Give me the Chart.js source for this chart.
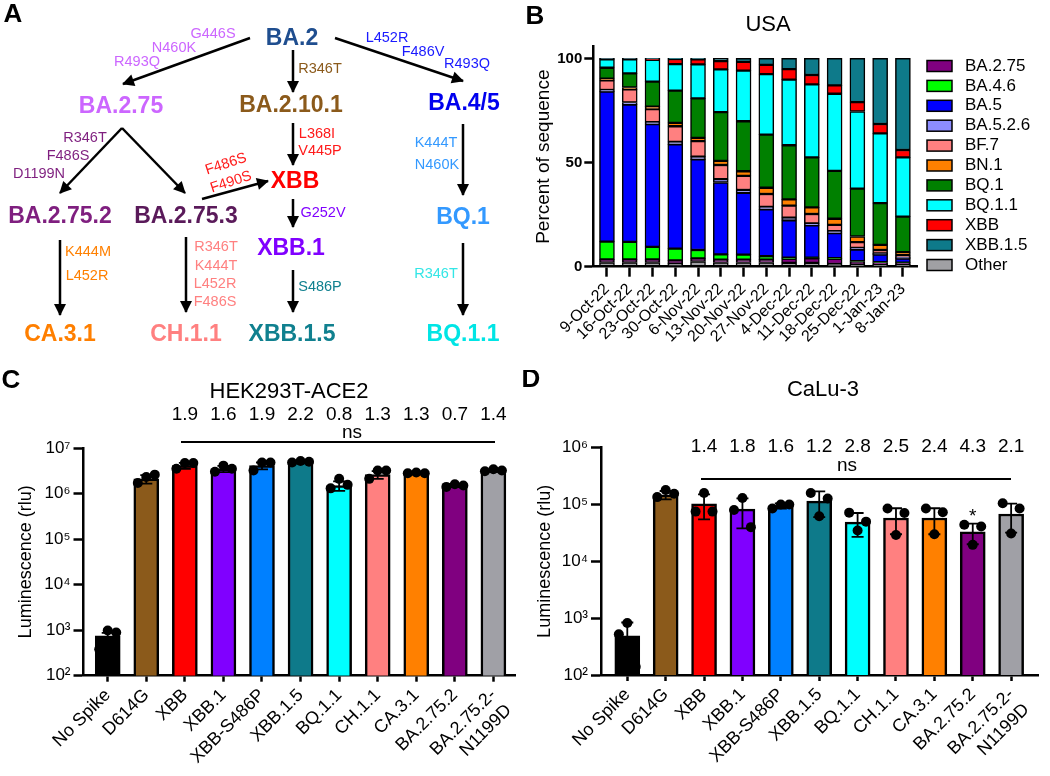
<!DOCTYPE html>
<html>
<head>
<meta charset="utf-8">
<title>XBB lineages</title>
<script src="https://cdn.jsdelivr.net/npm/chart.js@4.4.1/dist/chart.umd.min.js"></script>
<style>
  html, body { margin: 0; padding: 0; background: #fff; }
  #fig { position: relative; width: 1050px; height: 776px; overflow: hidden; }
  #fig canvas { position: absolute; }
</style>
</head>
<body>
<div id="fig">
  <canvas id="treeChart" width="520" height="370" style="left:0;top:0"></canvas>
  <canvas id="usaChart" width="530" height="370" style="left:520px;top:0"></canvas>
  <canvas id="hekChart" width="520" height="406" style="left:0;top:370px"></canvas>
  <canvas id="caluChart" width="530" height="406" style="left:520px;top:370px"></canvas>
</div>
<script>
// ---------- A : arbre des lignages ----------
const nodeNames  = ['BA.2', 'BA.2.75', 'BA.2.10.1', 'BA.4/5', 'XBB', 'BA.2.75.2', 'BA.2.75.3', 'BQ.1', 'XBB.1', 'CA.3.1', 'CH.1.1', 'XBB.1.5', 'BQ.1.1'];
const nodeX      = [292, 121, 291, 464, 295, 60, 186, 463, 291, 60, 186, 292, 463];
const nodeY      = [39, 107, 106, 104, 182, 217, 217, 218, 249, 335, 335, 335, 335];
const nodeColors = ['#1f4e8f', '#cc66ff', '#8b5a1b', '#0000ee', '#ff0000', '#7f1f7f', '#5a1a5a', '#3399ff', '#8000ff', '#ff7f00', '#ff8080', '#10808f', '#00e5e5'];

// fleches (depart -> arrivee)
const arrowFromX = [250, 293, 335, 122, 122, 202, 293, 293, 293, 463, 463, 60, 186];
const arrowFromY = [38, 50, 38, 128, 128, 199, 123, 199, 270, 124, 243, 240, 237];
const arrowToX   = [123, 293, 463, 60, 185, 268, 293, 293, 293, 463, 463, 60, 186];
const arrowToY   = [84, 92, 81, 193, 193, 181, 165, 227, 312, 195, 315, 315, 312];

// mutations
const mutText  = ['G446S', 'N460K', 'R493Q', 'L452R', 'F486V', 'R493Q', 'R346T', 'R346T', 'F486S', 'D1199N', 'L368I', 'V445P', 'F486S', 'F490S', 'G252V', 'K444T', 'N460K', 'K444M', 'L452R', 'R346T', 'K444T', 'L452R', 'F486S', 'S486P', 'R346T'];
const mutX     = [213, 174, 137, 387, 423, 467, 320, 85, 68, 39, 317, 320, 226, 231, 323, 436, 437, 88, 87, 216, 216, 215, 215, 320, 436];
const mutY     = [34, 48, 62, 38, 52, 64, 69, 138, 156, 174, 134, 151, 164, 182, 213, 143, 165, 252, 276, 247, 266, 284, 302, 287, 274];
const mutColor = ['#cc66ff', '#cc66ff', '#cc66ff', '#1a1aff', '#1a1aff', '#1a1aff', '#8b5a1b', '#7f1f7f', '#7f1f7f', '#7f1f7f', '#ff1a1a', '#ff1a1a', '#ff1a1a', '#ff1a1a', '#8000ff', '#3399ff', '#3399ff', '#ff8000', '#ff8000', '#ff8080', '#ff8080', '#ff8080', '#ff8080', '#10808f', '#33e6e6'];
const mutAngle = [0, 0, 0, 0, 0, 0, 0, 0, 0, 0, 0, 0, -18, -18, 0, 0, 0, 0, 0, 0, 0, 0, 0, 0, 0];

// ---------- B : USA ----------
const weeks = ['9-Oct-22', '16-Oct-22', '23-Oct-22', '30-Oct-22', '6-Nov-22', '13-Nov-22', '20-Nov-22', '27-Nov-22', '4-Dec-22', '11-Dec-22', '18-Dec-22', '25-Dec-22', '1-Jan-23', '8-Jan-23'];
const lineages = ['Other', 'BA.2.75', 'BA.4.6', 'BA.5', 'BA.5.2.6', 'BF.7', 'BN.1', 'BQ.1', 'BQ.1.1', 'XBB', 'XBB.1.5'];
const lineageColors = ['#a0a0a4', '#800080', '#00ff00', '#0000ff', '#8c8cff', '#ff8080', '#ff8000', '#008000', '#00ffff', '#ff0000', '#0e7a8a'];
const pctOther  = [2, 2, 2, 1.5, 2.5, 2, 2, 2, 1.8, 1.8, 1.3, 1, 1, 1];
const pctBA275  = [1.5, 1.5, 1.5, 1.5, 1.5, 1.4, 1.4, 1.4, 2, 2.2, 2.5, 1.5, 1, 0.8];
const pctBA46   = [8.5, 8.4, 6, 5.7, 4, 2.5, 2.4, 1.6, 0.5, 0.3, 0.3, 0.2, 0.2, 0.1];
const pctBA5    = [72, 65.9, 58.9, 50, 43.5, 34.5, 29.7, 22.5, 18, 15.5, 12, 5.5, 3.6, 2];
const pctBA526  = [0.8, 1, 1, 1.2, 1.3, 1.6, 1.3, 1.2, 1.2, 1, 1, 0.8, 0.6, 0.6];
const pctBF7    = [4.7, 6.3, 6.2, 7.5, 7.5, 6.8, 6.8, 6.2, 5.8, 4.5, 3, 2.8, 1.6, 1];
const pctBN1    = [0.7, 0.9, 1.2, 1.6, 1.5, 2, 2.2, 3, 3, 3.2, 2.9, 2.7, 2.5, 1.5];
const pctBQ1    = [5.3, 6.8, 12, 15.5, 19, 23.4, 24, 25.5, 26, 24, 23, 23, 20, 17];
const pctBQ11   = [4, 6.7, 10.5, 12.7, 16.3, 20.5, 24.3, 29, 31.5, 35, 37, 37, 33.5, 28.5];
const pctXBB    = [0.3, 0.3, 0.5, 2.5, 2.4, 4, 4.2, 4.5, 5, 4.5, 4, 4.5, 4.5, 3.5];
const pctXBB15  = [0.2, 0.2, 0.2, 0.3, 0.5, 1.3, 1.7, 3.1, 5.2, 8, 13, 21, 31.5, 44];
const sharesB = [pctOther, pctBA275, pctBA46, pctBA5, pctBA526, pctBF7, pctBN1, pctBQ1, pctBQ11, pctXBB, pctXBB15];
const legendOrderB = [1, 2, 3, 4, 5, 6, 7, 8, 9, 10, 0]; // "Other" en dernier
const percentTicks = [0, 50, 100];

// ---------- C / D : luminescence ----------
const variants = ['No Spike', 'D614G', 'XBB', 'XBB.1', 'XBB-S486P', 'XBB.1.5', 'BQ.1.1', 'CH.1.1', 'CA.3.1', 'BA.2.75.2', ['BA.2.75.2-', 'N1199D']];
const variantColors = ['#000000', '#8b5a1b', '#ff0000', '#8000ff', '#0080ff', '#0e7a8a', '#00ffff', '#ff8080', '#ff8000', '#800080', '#a0a0a6'];

const hekMean = [750, 2.1e6, 4.1e6, 3.5e6, 4.1e6, 4.9e6, 1.5e6, 2.6e6, 2.8e6, 1.5e6, 3.2e6];
const hekSD   = [120, 4.5e5, 6e5, 5.5e5, 7e5, 2.5e5, 3.5e5, 5e5, 1e5, 1.2e5, 1.5e5];
const hekRep1 = [380, 1.7e6, 3.5e6, 3.0e6, 3.2e6, 4.8e6, 1.3e6, 2.1e6, 2.8e6, 1.4e6, 3.1e6];
const hekRep2 = [980, 2.3e6, 4.7e6, 4.1e6, 4.8e6, 5.2e6, 2.1e6, 3.2e6, 2.9e6, 1.6e6, 3.4e6];
const hekRep3 = [890, 2.6e6, 4.7e6, 3.5e6, 4.8e6, 5.0e6, 1.55e6, 3.2e6, 2.8e6, 1.5e6, 3.2e6];
const hekFold = ['1.9', '1.6', '1.9', '2.2', '0.8', '1.3', '1.3', '0.7', '1.4'];
const hekTicks = [1e2, 1e3, 1e4, 1e5, 1e6, 1e7];
const hekTickLabels = ['10²', '10³', '10⁴', '10⁵', '10⁶', '10⁷'];

const caluMean = [490, 1.48e5, 1.03e5, 8.3e4, 9.5e4, 1.15e5, 4.9e4, 5.8e4, 5.8e4, 3.3e4, 6.8e4];
const caluSD   = [350, 2.5e4, 4.8e4, 4.5e4, 1.0e4, 5.5e4, 2.2e4, 2.8e4, 2.8e4, 1.3e4, 3.6e4];
const caluRep1 = [520, 1.35e5, 7.5e4, 8e4, 8.5e4, 1.6e5, 7.2e4, 8.5e4, 8.5e4, 4.4e4, 1.05e5];
const caluRep2 = [820, 1.8e5, 1.6e5, 1.3e5, 1.0e5, 6.2e4, 3.5e4, 2.9e4, 3.0e4, 1.95e4, 3.1e4];
const caluRep3 = [140, 1.55e5, 7.5e4, 4e4, 1.0e5, 1.28e5, 5e4, 7.1e4, 7.3e4, 4.1e4, 8.5e4];
const caluFold = ['1.4', '1.8', '1.6', '1.2', '2.8', '2.5', '2.4', '4.3', '2.1'];
const caluTicks = [1e2, 1e3, 1e4, 1e5, 1e6];
const caluTickLabels = ['10²', '10³', '10⁴', '10⁵', '10⁶'];

const JITTER = [-0.22, 0, 0.22];
const FONT = 'Arial, "Liberation Sans", Helvetica, sans-serif';

Chart.defaults.font.family = FONT;
Chart.defaults.color = '#000';
Chart.defaults.animation = false;
Chart.defaults.plugins.legend.display = false;
Chart.defaults.plugins.tooltip.enabled = false;

function putText(ctx, txt, x, y, font, color, align, angle) {
    ctx.save();
    ctx.translate(x, y);
    if (angle) ctx.rotate(angle * Math.PI / 180);
    ctx.font = font + ' ' + FONT;
    ctx.fillStyle = color || '#000';
    ctx.textAlign = align || 'center';
    ctx.textBaseline = 'middle';
    ctx.fillText(txt, 0, 0);
    ctx.restore();
}

// ---------- A ----------
const treeLabels = {
    id: 'treeLabels',
    afterDatasetsDraw(chart) {
        const ctx = chart.ctx;
        // pointes de fleches
        for (let k = 2; k < chart.data.datasets.length; k++) {
            const pts = chart.getDatasetMeta(k).data;
            const a = pts[0], b = pts[1];
            const ang = Math.atan2(b.y - a.y, b.x - a.x);
            ctx.save();
            ctx.translate(b.x, b.y);
            ctx.rotate(ang);
            ctx.beginPath();
            ctx.moveTo(1, 0);
            ctx.lineTo(-11, -6);
            ctx.lineTo(-11, 6);
            ctx.closePath();
            ctx.fillStyle = '#000';
            ctx.fill();
            ctx.restore();
        }
        chart.getDatasetMeta(0).data.forEach((p, i) => putText(ctx, nodeNames[i], p.x, p.y, 'bold 23px', nodeColors[i]));
        chart.getDatasetMeta(1).data.forEach((p, i) => putText(ctx, mutText[i], p.x, p.y, '14.5px', mutColor[i], 'center', mutAngle[i]));
        putText(ctx, 'A', 13, 15, 'bold 26px');
    }
};

new Chart(document.getElementById('treeChart'), {
    type: 'scatter',
    data: {
        datasets: [
            { data: nodeNames.map((n, i) => ({ x: nodeX[i], y: nodeY[i] })), pointRadius: 0 },
            { data: mutText.map((t, i) => ({ x: mutX[i], y: mutY[i] })), pointRadius: 0 },
            ...arrowFromX.map((x0, i) => ({
                data: [{ x: x0, y: arrowFromY[i] }, { x: arrowToX[i], y: arrowToY[i] }],
                showLine: true, borderColor: '#000', borderWidth: 2.5, pointRadius: 0
            }))
        ]
    },
    options: {
        responsive: false,
        devicePixelRatio: 1,
        events: [],
        layout: { padding: 0 },
        scales: {
            x: { type: 'linear', min: 0, max: 520, display: false },
            y: { type: 'linear', min: 0, max: 370, reverse: true, display: false }
        }
    },
    plugins: [treeLabels]
});

// ---------- B ----------
const usaText = {
    id: 'usaText',
    afterDraw(chart) {
        const ctx = chart.ctx;
        putText(ctx, 'B', 15, 17, 'bold 26px');
        putText(ctx, 'USA', 248, 25, '22px');
        legendOrderB.forEach((k, row) => {
            const y = 66 + row * 19.9;
            ctx.save();
            ctx.fillStyle = lineageColors[k];
            ctx.strokeStyle = '#000';
            ctx.lineWidth = 1.5;
            ctx.fillRect(407, y - 5.5, 25, 11);
            ctx.strokeRect(407, y - 5.5, 25, 11);
            ctx.restore();
            putText(ctx, lineages[k], 445, y, '17px', '#000', 'left');
        });
    }
};

new Chart(document.getElementById('usaChart'), {
    type: 'bar',
    data: {
        datasets: lineages.map((name, k) => ({
            label: name,
            data: sharesB[k].map((v, i) => ({ x: i, y: v })),
            backgroundColor: lineageColors[k],
            borderColor: '#000',
            borderWidth: 1.5,
            borderSkipped: false,
            barThickness: 15
        }))
    },
    options: {
        responsive: false,
        devicePixelRatio: 1,
        events: [],
        layout: { padding: { left: 0, top: 46.7, right: 132.3, bottom: 0 } },
        scales: {
            x: {
                type: 'linear', stacked: true, offset: false, min: -0.6, max: 13.65,
                afterBuildTicks: s => { s.ticks = weeks.map((w, i) => ({ value: i })); },
                afterFit: s => { s.height = 103.3; s.paddingLeft = 0; s.paddingRight = 0; },
                ticks: { autoSkip: false, minRotation: 45, maxRotation: 45, padding: 3, font: { size: 16 }, callback: (v, i) => weeks[i] },
                grid: { offset: false, drawOnChartArea: false, tickLength: 10, tickWidth: 2.5, tickColor: '#000' },
                border: { color: '#000', width: 2.5 }
            },
            y: {
                stacked: true, min: 0, max: 105.6,
                afterBuildTicks: s => { s.ticks = percentTicks.map(v => ({ value: v })); },
                afterFit: s => { s.width = 73.3; s.paddingTop = 0; s.paddingBottom = 0; },
                ticks: { padding: 2, font: { size: 15, weight: 'bold' } },
                grid: { drawOnChartArea: false, tickLength: 9, tickWidth: 2.5, tickColor: '#000' },
                border: { color: '#000', width: 2.5 },
                title: { display: true, text: 'Percent of sequence', font: { size: 19 }, padding: { top: 12, bottom: 0 } }
            }
        }
    },
    plugins: [usaText]
});

// ---------- C et D ----------
function errorBarPlugin(means, sds) {
    return {
        id: 'errorBars',
        afterDatasetDraw(chart, args) {
            if (args.index !== 0) return;
            const { ctx, scales: { x, y } } = chart;
            ctx.save();
            ctx.strokeStyle = '#000';
            ctx.lineWidth = 1.8;
            means.forEach((m, i) => {
                const px = x.getPixelForValue(i);
                const hi = y.getPixelForValue(m + sds[i]);
                const low = m - sds[i];
                const lo = y.getPixelForValue(Math.max(low, y.min));
                ctx.beginPath();
                ctx.moveTo(px, lo);
                ctx.lineTo(px, hi);
                ctx.moveTo(px - 6, hi);
                ctx.lineTo(px + 6, hi);
                if (low > y.min) {
                    ctx.moveTo(px - 6, lo);
                    ctx.lineTo(px + 6, lo);
                }
                ctx.stroke();
            });
            ctx.restore();
        }
    };
}

function lumTextPlugin(o) {
    return {
        id: 'lumText',
        afterDraw(chart) {
            const { ctx, scales: { x } } = chart;
            putText(ctx, o.letter, 11, o.letterY, 'bold 26px');
            putText(ctx, o.title, o.titleX, o.titleY, '22px');
            o.folds.forEach((f, k) => putText(ctx, f, x.getPixelForValue(k + 2), o.foldY, '19px'));
            putText(ctx, 'ns', o.nsX, o.nsY, '19px');
            ctx.save();
            ctx.strokeStyle = '#000';
            ctx.lineWidth = 2;
            ctx.beginPath();
            ctx.moveTo(o.lineX0, o.lineY);
            ctx.lineTo(o.lineX1, o.lineY);
            ctx.stroke();
            ctx.restore();
            if (o.star) putText(ctx, '*', x.getPixelForValue(o.star.index), o.star.y, '19px');
        }
    };
}

function renderLumChart(id, means, sds, reps, tickVals, tickLabels, o) {
    const points = [];
    reps.forEach((r, j) => r.forEach((v, i) => points.push({ x: i + JITTER[j], y: v })));

    new Chart(document.getElementById(id), {
        type: 'bar',
        data: {
            datasets: [
                {
                    data: means.map((v, i) => ({ x: i, y: v })),
                    backgroundColor: variantColors,
                    borderColor: '#000',
                    borderWidth: 2.5,
                    barThickness: 25,
                    order: 2
                },
                {
                    type: 'scatter',
                    data: points,
                    pointRadius: 5,
                    pointBackgroundColor: '#000',
                    pointBorderColor: '#000',
                    pointBorderWidth: 0,
                    order: 1
                }
            ]
        },
        options: {
            responsive: false,
            devicePixelRatio: 1,
            events: [],
            layout: { padding: { left: 0, top: o.top, right: o.right, bottom: 0 } },
            scales: {
                x: {
                    type: 'linear', offset: false, min: o.xMin, max: o.xMax,
                    afterBuildTicks: s => { s.ticks = variants.map((v, i) => ({ value: i })); },
                    afterFit: s => { s.height = o.xHeight; s.paddingLeft = 0; s.paddingRight = 0; },
                    ticks: { autoSkip: false, minRotation: 45, maxRotation: 45, padding: 3, font: { size: 18 }, callback: (v, i) => variants[i] },
                    grid: { offset: false, drawOnChartArea: false, tickLength: 6, tickWidth: 2.5, tickColor: '#000' },
                    border: { color: '#000', width: 2.5 }
                },
                y: {
                    type: 'logarithmic', min: tickVals[0], max: tickVals[tickVals.length - 1],
                    afterBuildTicks: s => { s.ticks = tickVals.map(v => ({ value: v })); },
                    afterFit: s => { s.width = o.yWidth; s.paddingTop = 0; s.paddingBottom = 0; },
                    ticks: { padding: 3, font: { size: 17 }, callback: (v, i) => tickLabels[i] },
                    grid: { drawOnChartArea: false, tickLength: 10, tickWidth: 2.5, tickColor: '#000' },
                    border: { color: '#000', width: 2.5 },
                    title: { display: true, text: 'Luminescence (rlu)', font: { size: 18 }, padding: { top: o.yTitlePad, bottom: 0 } }
                }
            }
        },
        plugins: [errorBarPlugin(means, sds), lumTextPlugin(o)]
    });
}

renderLumChart('hekChart', hekMean, hekSD, [hekRep1, hekRep2, hekRep3], hekTicks, hekTickLabels, {
    top: 78, right: 0, xMin: -0.628, xMax: 10.56, xHeight: 100.3, yWidth: 83.5, yTitlePad: 15,
    letter: 'C', letterY: 11, title: 'HEK293T-ACE2', titleX: 289, titleY: 22,
    folds: hekFold, foldY: 45, nsX: 352, nsY: 63, lineX0: 181, lineX1: 495, lineY: 72
});

renderLumChart('caluChart', caluMean, caluSD, [caluRep1, caluRep2, caluRep3], caluTicks, caluTickLabels, {
    top: 77.7, right: 12, xMin: -0.685, xMax: 10.70, xHeight: 101, yWidth: 81, yTitlePad: 14,
    letter: 'D', letterY: 10, title: 'CaLu-3', titleX: 303, titleY: 20,
    folds: caluFold, foldY: 77, nsX: 327, nsY: 96, lineX0: 181, lineX1: 491, lineY: 109,
    star: { index: 9, y: 147 }
});
</script>
</body>
</html>
